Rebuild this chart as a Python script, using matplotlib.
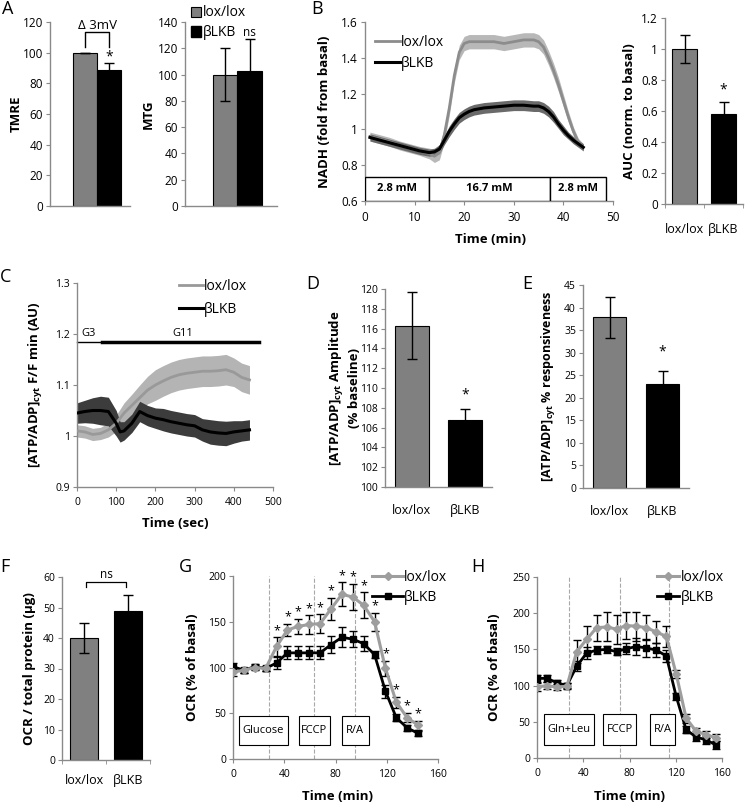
import numpy as np
import matplotlib.pyplot as plt
from matplotlib.patches import Rectangle, Patch
from matplotlib.ticker import FuncFormatter, FixedLocator

plt.rcParams['font.family'] = ['Open Sans', 'DejaVu Sans']
plt.rcParams['mathtext.fontset'] = 'custom'
plt.rcParams['mathtext.rm'] = 'Open Sans'
plt.rcParams['mathtext.bf'] = 'Open Sans:bold'

W, H = 745, 806
GREY = '#808080'
LGREY = '#9e9e9e'
AXC = '#8a8a8a'

groups = ['lox/lox', 'βLKB']

# ---- A
tmre_mean = [100, 89]
tmre_err = [0, 4]
mtg_mean = [100, 103]
mtg_err = [20, 24]

# ---- B
nadh_t = [1, 3, 5, 7, 9, 11, 13, 14, 15, 16, 17, 18, 19, 20, 21, 22, 24, 26, 28, 30,
          32, 34, 35, 36, 37, 38, 39, 40, 41, 42, 43, 44]
nadh_lox = [0.96, 0.945, 0.93, 0.91, 0.895, 0.88, 0.865, 0.85, 0.87, 0.97, 1.12, 1.30,
            1.43, 1.48, 1.49, 1.49, 1.49, 1.49, 1.48, 1.49, 1.50, 1.50, 1.49, 1.46, 1.40,
            1.33, 1.25, 1.16, 1.07, 0.99, 0.93, 0.90]
nadh_lox_sd = [0.025, 0.025, 0.025, 0.025, 0.025, 0.025, 0.03, 0.035, 0.04, 0.04, 0.04,
               0.04, 0.04, 0.04, 0.04, 0.04, 0.04, 0.04, 0.04, 0.04, 0.04, 0.04, 0.04,
               0.04, 0.04, 0.04, 0.04, 0.035, 0.03, 0.025, 0.02, 0.02]
nadh_lkb = [0.955, 0.94, 0.925, 0.91, 0.895, 0.88, 0.87, 0.875, 0.89, 0.94, 0.99, 1.03,
            1.065, 1.085, 1.10, 1.11, 1.12, 1.125, 1.13, 1.135, 1.135, 1.13, 1.13, 1.12,
            1.10, 1.07, 1.03, 0.995, 0.965, 0.94, 0.92, 0.90]
nadh_lkb_sd = [0.02, 0.02, 0.02, 0.02, 0.02, 0.02, 0.02, 0.02, 0.025, 0.025, 0.03, 0.03,
               0.03, 0.03, 0.03, 0.03, 0.03, 0.03, 0.03, 0.03, 0.03, 0.03, 0.03, 0.03,
               0.03, 0.03, 0.025, 0.025, 0.02, 0.02, 0.02, 0.02]
nadh_boxes = [('2.8 mM', 0, 13.0), ('16.7 mM', 13.0, 37.3), ('2.8 mM', 37.3, 48.6)]
auc_mean = [1.0, 0.58]
auc_err = [0.09, 0.08]

# ---- C
c_t = [0, 20, 40, 60, 80, 100, 110, 120, 140, 160, 180, 200, 220, 240, 260, 280, 300,
       320, 340, 360, 380, 400, 420, 440]
c_lox = [1.01, 1.008, 1.003, 1.005, 1.012, 1.025, 1.035, 1.045, 1.06, 1.075, 1.09, 1.10,
         1.108, 1.115, 1.12, 1.123, 1.125, 1.127, 1.127, 1.128, 1.13, 1.125, 1.115, 1.11]
c_lox_sd = [0.012, 0.012, 0.012, 0.012, 0.014, 0.016, 0.018, 0.02, 0.022, 0.025, 0.027,
            0.03, 0.03, 0.03, 0.03, 0.03, 0.03, 0.03, 0.03, 0.03, 0.03, 0.028, 0.028, 0.028]
c_lkb = [1.045, 1.048, 1.05, 1.05, 1.048, 1.025, 1.008, 1.01, 1.025, 1.048, 1.04, 1.035,
         1.032, 1.028, 1.025, 1.022, 1.02, 1.012, 1.008, 1.006, 1.005, 1.008, 1.01, 1.012]
c_lkb_sd = [0.02, 0.022, 0.025, 0.028, 0.028, 0.025, 0.02, 0.018, 0.018, 0.02, 0.02, 0.02,
            0.022, 0.022, 0.022, 0.022, 0.022, 0.022, 0.024, 0.024, 0.024, 0.022, 0.02, 0.02]

# ---- D, E, F
amp_mean = [116.3, 106.8]
amp_err = [3.4, 1.1]
resp_mean = [37.8, 23.0]
resp_err = [4.5, 3.0]
ocr_mean = [40, 49]
ocr_err = [5, 5]

# ---- G
g_t = [0, 8.5, 17, 25.5, 34, 42.5, 51, 59.5, 68, 76.5, 85, 93.5, 102, 110.5, 119, 127.5,
       136, 144.5]
g_lox = [95, 97, 100, 99, 123, 141, 145, 147, 148, 164, 180, 177, 168, 150, 99, 62, 45, 37]
g_lox_err = [4, 3, 3, 3, 10, 7, 8, 10, 10, 12, 13, 14, 14, 10, 8, 6, 5, 5]
g_lkb = [101, 97, 101, 99, 105, 116, 116, 116, 116, 125, 133, 131, 126, 114, 74, 45, 34, 28]
g_lkb_err = [4, 3, 3, 3, 7, 7, 7, 7, 7, 9, 11, 9, 8, 4, 7, 4, 3, 3]
g_inj = [28.4, 63.2, 95.5]
g_boxes = [('Glucose', 4.6, 43), ('FCCP', 51.6, 75.4), ('R/A', 85, 105.8)]

# ---- H
h_t = [0, 8.6, 17.2, 25.8, 34.4, 43, 51.6, 60.2, 68.8, 77.4, 86, 94.6, 103.2, 111.8,
       120.4, 129, 137.6, 146.2, 154.8]
h_lox = [98, 100, 98, 99, 147, 164, 180, 181, 178, 183, 182, 180, 174, 168, 116, 55, 37, 32, 28]
h_lox_err = [5, 5, 4, 4, 16, 19, 18, 20, 20, 19, 20, 17, 15, 15, 5, 6, 5, 5, 5]
h_lkb = [110, 110, 104, 100, 127, 145, 149, 150, 147, 151, 154, 152, 149, 141, 85, 39, 29, 25, 18]
h_lkb_err = [5, 5, 4, 3, 7, 8, 6, 5, 5, 8, 12, 12, 10, 8, 5, 5, 5, 5, 5]
h_inj = [28, 72, 114]
h_boxes = [('Gln+Leu', 6.3, 48.9), ('FCCP', 57.5, 85.3), ('R/A', 97.7, 119.3)]

fig = plt.figure(figsize=(W / 100, H / 100), dpi=100)
fmt = FuncFormatter(lambda v, p: f'{v:g}')


def add_ax(x0, y0, x1, y1, ls=8):
    ax = fig.add_axes([x0 / W, 1 - y1 / H, (x1 - x0) / W, (y1 - y0) / H])
    ax.spines[['top', 'right']].set_visible(False)
    for s in ('left', 'bottom'):
        ax.spines[s].set_color(AXC)
        ax.spines[s].set_linewidth(1)
    ax.tick_params(direction='out', length=3, color=AXC, labelsize=ls, pad=2)
    ax.patch.set_alpha(0)
    ax.box_px = (x0, y0, x1, y1)
    return ax


def ylab(ax, text, xr, size=9.5):
    x0, y0, x1, y1 = ax.box_px
    ax.set_ylabel(text, fontsize=size, fontweight='bold')
    ax.yaxis.set_label_coords((xr - x0) / (x1 - x0), 0.5)


def xlab(ax, text, xc, yt, size=9.5):
    x0, y0, x1, y1 = ax.box_px
    ax.set_xlabel(text, fontsize=size, fontweight='bold')
    ax.xaxis.set_label_coords((xc - x0) / (x1 - x0), -(yt - y1) / (y1 - y0))


def bars(ax, means, errs, width):
    x = np.arange(len(means))
    ax.bar(x, means, width, color=[GREY, 'black'], edgecolor='black', linewidth=0.8,
           zorder=2)
    ax.errorbar(x, means, yerr=errs, fmt='none', ecolor='black', elinewidth=1,
                capsize=3.5, capthick=1, zorder=3)
    return x


def cat_axis(ax, pad, edges=True):
    ax.set_xlim(-0.5, 1.5)
    ax.set_xticks([0, 1])
    ax.set_xticklabels(groups, fontsize=9)
    ax.tick_params(axis='x', which='major', length=0, pad=pad)
    if edges:
        ax.xaxis.set_minor_locator(FixedLocator([-0.5, 0.5, 1.5]))
        ax.tick_params(axis='x', which='minor', length=3, color=AXC, direction='out')


def panel(label, x, y):
    fig.text(x / W, 1 - y / H, label, fontsize=13, va='top', ha='left')


# ================= A: TMRE
ax = add_ax(50, 22, 130, 206, ls=8.5)
bars(ax, tmre_mean, tmre_err, 1.0)
ax.set_xlim(-1.46, 1.87)
ax.set_ylim(0, 120)
ax.set_yticks(range(0, 121, 20))
ax.set_xticks([])
ylab(ax, 'TMRE', 23)
ax.plot([0, 0, 1, 1], [104, 113.5, 113.5, 104], color='black', lw=1, clip_on=False)
ax.text(0.5, 118, 'Δ 3mV', ha='center', va='center', fontsize=9.5)
ax.text(1, 97.5, '*', ha='center', va='center', fontsize=10)

# ================= A: MTG
ax = add_ax(185, 22, 277, 206, ls=8.5)
bars(ax, mtg_mean, mtg_err, 1.0)
ax.set_xlim(-1.63, 2.12)
ax.set_ylim(0, 140)
ax.set_yticks(range(0, 141, 20))
ax.set_xticks([])
ylab(ax, 'MTG', 155)
ax.text(1, 132, 'ns', ha='center', va='center', fontsize=8.5)
ax.legend(handles=[Patch(facecolor=GREY, edgecolor='black', lw=0.8),
                   Patch(facecolor='black', edgecolor='black')], labels=groups,
          loc='upper left', bbox_to_anchor=(0.06, 1.09), frameon=False, fontsize=10,
          handlelength=0.75, handleheight=0.75, handletextpad=0.15, labelspacing=0.35,
          borderaxespad=0, borderpad=0)

# ================= B: NADH trace
ax = add_ax(365, 22, 613, 201, ls=8.5)
ax.fill_between(nadh_t, np.subtract(nadh_lox, nadh_lox_sd), np.add(nadh_lox, nadh_lox_sd),
                color='#b8b8b8', lw=0, zorder=1)
ax.fill_between(nadh_t, np.subtract(nadh_lkb, nadh_lkb_sd), np.add(nadh_lkb, nadh_lkb_sd),
                color='#6a6a6a', lw=0, zorder=2)
l1, = ax.plot(nadh_t, nadh_lox, color='#8c8c8c', lw=2, zorder=3)
l2, = ax.plot(nadh_t, nadh_lkb, color='black', lw=2.2, zorder=4)
for name, a, b in nadh_boxes:
    ax.add_patch(Rectangle((a, 0.6), b - a, 0.135, facecolor='white', edgecolor='black',
                           lw=1, zorder=5))
    ax.text((a + b) / 2, 0.6675, name, ha='center', va='center', fontsize=8,
            fontweight='bold', zorder=6)
ax.set_xlim(0, 50)
ax.set_ylim(0.6, 1.6)
ax.set_xticks(range(0, 51, 10))
ax.set_yticks(np.arange(0.6, 1.61, 0.2))
ax.yaxis.set_major_formatter(fmt)
ylab(ax, 'NADH (fold from basal)', 331)
xlab(ax, 'Time (min)', 490, 233)
ax.legend([l1, l2], groups, loc='upper left', bbox_to_anchor=(0.04, 0.93), frameon=False,
          fontsize=10, handlelength=1.8, handletextpad=0.05, labelspacing=0.45,
          borderaxespad=0, borderpad=0)
ax.tick_params(axis='x', pad=4)

# ================= B: AUC
ax = add_ax(665, 18, 743, 204, ls=8.5)
bars(ax, auc_mean, auc_err, 0.62)
cat_axis(ax, 14)
ax.set_ylim(0, 1.2)
ax.set_yticks(np.arange(0, 1.21, 0.2))
ax.yaxis.set_major_formatter(fmt)
ylab(ax, 'AUC (norm. to basal)', 636)
ax.text(1, 0.735, '*', ha='center', va='center', fontsize=10)

# ================= C
ax = add_ax(77, 283, 273, 487, ls=7.5)
ax.fill_between(c_t, np.subtract(c_lox, c_lox_sd), np.add(c_lox, c_lox_sd),
                color='#b4b4b4', lw=0, zorder=1)
ax.fill_between(c_t, np.subtract(c_lkb, c_lkb_sd), np.add(c_lkb, c_lkb_sd),
                color='#3c3c3c', lw=0, zorder=2)
l1, = ax.plot(c_t, c_lox, color='#999999', lw=2, zorder=3)
l2, = ax.plot(c_t, c_lkb, color='black', lw=2.2, zorder=4)
ax.plot([0, 465], [1.185, 1.185], color='black', lw=1, clip_on=False)
ax.plot([64, 465], [1.185, 1.185], color='black', lw=2.5, clip_on=False)
ax.text(12, 1.19, 'G3', fontsize=8, va='bottom', ha='left')
ax.text(270, 1.19, 'G11', fontsize=8, va='bottom', ha='center')
ax.set_xlim(0, 500)
ax.set_ylim(0.9, 1.3)
ax.set_xticks(range(0, 501, 100))
ax.set_yticks(np.arange(0.9, 1.31, 0.1))
ax.yaxis.set_major_formatter(fmt)
ylab(ax, r'[ATP/ADP]$_{\mathbf{cyt}}$ F/F min (AU)', 45)
xlab(ax, 'Time (sec)', 175, 517)
ax.tick_params(axis='x', pad=4)
ax.legend([l1, l2], groups, loc='upper left', bbox_to_anchor=(0.52, 1.02), frameon=False,
          fontsize=10, handlelength=1.7, handletextpad=0.1, labelspacing=0.6,
          borderaxespad=0, borderpad=0)

# ================= D
ax = add_ax(385, 289, 492, 487, ls=7.5)
bars(ax, amp_mean, amp_err, 0.64)
cat_axis(ax, 12, edges=False)
ax.set_ylim(100, 120)
ax.set_yticks(range(100, 121, 2))
ylab(ax, '[ATP/ADP]$_{\\mathbf{cyt}}$ Amplitude\n(% baseline)', 361)
ax.text(1, 109.3, '*', ha='center', va='center', fontsize=10)

# ================= E
ax = add_ax(583, 285, 689, 488, ls=7.5)
bars(ax, resp_mean, resp_err, 0.63)
cat_axis(ax, 12, edges=False)
ax.set_ylim(0, 45)
ax.set_yticks(range(0, 46, 5))
ylab(ax, r'[ATP/ADP]$_{\mathbf{cyt}}$ % responsiveness', 558, size=9)
ax.text(1, 30.1, '*', ha='center', va='center', fontsize=10)

# ================= F
ax = add_ax(62, 577, 150, 760, ls=7.5)
bars(ax, ocr_mean, ocr_err, 0.62)
cat_axis(ax, 10)
ax.set_ylim(0, 60)
ax.set_yticks(range(0, 61, 10))
ylab(ax, 'OCR / total protein (µg)', 36)
ax.plot([0.05, 0.05, 0.95, 0.95], [56.7, 58.4, 58.4, 56.7], color='black', lw=0.9,
        clip_on=False)
ax.text(0.5, 60.8, 'ns', ha='center', va='center', fontsize=8.5)


# ================= G, H
def seahorse(ax, t, lox, lox_e, lkb, lkb_e, inj, boxes, boxy, ymax, stars):
    for v in inj:
        ax.axvline(v, color='#a8a8a8', ls='--', lw=0.8, zorder=1)
    for name, a, b in boxes:
        ax.add_patch(Rectangle((a, boxy[0]), b - a, boxy[1] - boxy[0], facecolor='white',
                               edgecolor='black', lw=0.8, zorder=2))
        ax.text((a + b) / 2, (boxy[0] + boxy[1]) / 2, name, ha='center', va='center',
                fontsize=8, zorder=3)
    ax.errorbar(t, lkb, yerr=lkb_e, fmt='none', ecolor='black', elinewidth=1, capsize=2.8,
                capthick=1, zorder=4)
    ax.errorbar(t, lox, yerr=lox_e, fmt='none', ecolor='black', elinewidth=1, capsize=2.8,
                capthick=1, zorder=4)
    h2, = ax.plot(t, lkb, color='black', lw=2, marker='s', ms=4, zorder=5)
    h1, = ax.plot(t, lox, color=LGREY, lw=2.2, marker='D', ms=4.2, zorder=6)
    if stars:
        for i in range(4, len(t)):
            ax.text(t[i], lox[i] + lox_e[i] + 0.5, '*', ha='center', va='bottom',
                    fontsize=9, zorder=7)
    ax.set_xlim(0, 160)
    ax.set_ylim(0, ymax)
    ax.set_xticks(range(0, 161, 40))
    ax.tick_params(axis='x', pad=4)
    return h1, h2


ax = add_ax(233, 576, 438, 759, ls=7.5)
h1, h2 = seahorse(ax, g_t, g_lox, g_lox_err, g_lkb, g_lkb_err, g_inj, g_boxes,
                  (15.6, 46.5), 200, True)
ax.set_yticks(range(0, 201, 50))
ylab(ax, 'OCR (% of basal)', 199)
xlab(ax, 'Time (min)', 337, 790)
ax.legend([h1, h2], groups, loc='upper left', bbox_to_anchor=(0.68, 1.035), frameon=False,
          fontsize=10, handlelength=2.2, handletextpad=0.1, labelspacing=0.4,
          borderaxespad=0, borderpad=0)

ax = add_ax(537, 577, 722, 758, ls=7.5)
h1, h2 = seahorse(ax, h_t, h_lox, h_lox_err, h_lkb, h_lkb_err, h_inj, h_boxes,
                  (18.4, 60.8), 250, False)
ax.set_yticks(range(0, 251, 50))
ylab(ax, 'OCR (% of basal)', 501)
xlab(ax, 'Time (min)', 630, 790)
ax.legend([h1, h2], groups, loc='upper left', bbox_to_anchor=(0.65, 1.04), frameon=False,
          fontsize=10, handlelength=1.6, handletextpad=0.1, labelspacing=0.4,
          borderaxespad=0, borderpad=0)

panel('A', 2, 0)
panel('B', 311, 0)
panel('C', 0, 268)
panel('D', 306, 275)
panel('E', 522, 275)
panel('F', 0, 558)
panel('G', 179, 558)
panel('H', 471, 558)

fig.savefig('out.png', dpi=100)
